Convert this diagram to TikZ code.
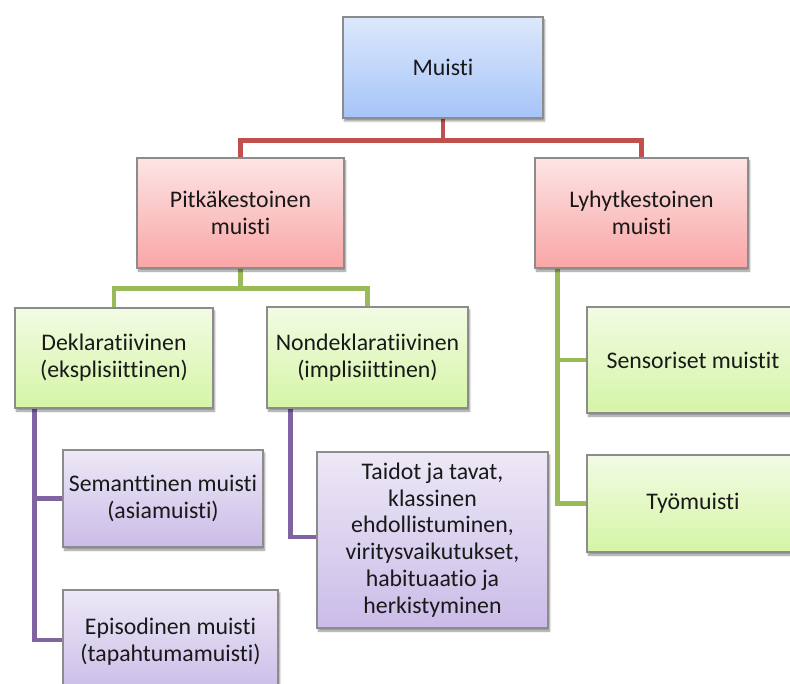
\documentclass[tikz,border=0pt]{standalone}
\usepackage{fontspec}
\setmainfont[Ligatures=NoCommon]{Carlito}
\usetikzlibrary{shadows.blur,backgrounds,calc}
\definecolor{lnred}{HTML}{C0504D}
\definecolor{lngreen}{HTML}{9BBB59}
\definecolor{lnpurple}{HTML}{8064A2}
\definecolor{bordergray}{HTML}{8C8C8C}
\tikzset{
  box/.style={draw=bordergray, line width=1.3pt, align=center, inner sep=2pt,
    font=\fontsize{23.8}{26.8}\selectfont, text=black!90,
    blur shadow={shadow xshift=1.5pt, shadow yshift=-3pt, shadow blur steps=8, shadow opacity=45}},
  bluebox/.style={box, top color={rgb,255:red,220;green,232;blue,252}, bottom color={rgb,255:red,166;green,196;blue,248}},
  redbox/.style={box, top color={rgb,255:red,253;green,228;blue,228}, bottom color={rgb,255:red,249;green,166;blue,166}},
  greenbox/.style={box, top color={rgb,255:red,242;green,251;blue,228}, bottom color={rgb,255:red,213;green,245;blue,166}},
  purplebox/.style={box, top color={rgb,255:red,237;green,232;blue,246}, bottom color={rgb,255:red,202;green,188;blue,232}},
  redline/.style={draw=lnred, line width=4.5pt},
  greenline/.style={draw=lngreen, line width=4.5pt},
  purpleline/.style={draw=lnpurple, line width=4.5pt},
}
\begin{document}
\begin{tikzpicture}[x=1pt,y=-1pt]
\useasboundingbox (0,0) rectangle (790,684);
\clip (0,0) rectangle (790,684);
% boxes
\node[bluebox, minimum width=200pt, minimum height=101pt] (muisti) at (443,67.5) {Muisti};
\node[redbox, minimum width=207pt, minimum height=110pt] (pitka) at (240.5,213) {Pitkäkestoinen\\muisti};
\node[redbox, minimum width=213pt, minimum height=110pt] (lyhyt) at (641.5,213) {Lyhytkestoinen\\muisti};
\node[greenbox, minimum width=198pt, minimum height=100pt] (dekl) at (114,358) {Deklaratiivinen\\(eksplisiittinen)};
\node[greenbox, minimum width=201pt, minimum height=101pt] (nondekl) at (367.5,357.5) {Nondeklaratiivinen\\(implisiittinen)};
\node[greenbox, minimum width=212pt, minimum height=106pt] (sens) at (693,360) {Sensoriset muistit};
\node[greenbox, minimum width=212pt, minimum height=97pt] (tyo) at (693,503.5) {Työmuisti};
\node[purplebox, minimum width=200pt, minimum height=97pt] (sem) at (163,498.5) {Semanttinen muisti\\(asiamuisti)};
\node[purplebox, minimum width=215pt, minimum height=104pt] (epi) at (170.5,642) {Episodinen muisti\\(tapahtumamuisti)};
\node[purplebox, minimum width=231pt, minimum height=176pt] (taidot) at (432.5,540) {Taidot ja tavat,\\klassinen\\ehdollistuminen,\\viritysvaikutukset,\\habituaatio ja\\herkistyminen};
% connectors
\begin{scope}[on background layer]
\coordinate (rj) at ($(muisti.south)+(0,22)$);
\draw[redline] (muisti.south) -- (rj);
\draw[redline] (rj) -| (pitka.north);
\draw[redline] (rj) -| (lyhyt.north);
\coordinate (gj) at ($(pitka.south)+(0,20)$);
\draw[greenline] (pitka.south) -- (gj);
\draw[greenline] (gj) -| (dekl.north);
\draw[greenline] (gj) -| (nondekl.north);
\coordinate (lv) at ($(lyhyt.south west)+(23,0)$);
\draw[greenline] (lv) |- (tyo.west);
\draw[greenline] (lv |- sens.west) -- (sens.west);
\coordinate (dv) at ($(dekl.south west)+(20,0)$);
\draw[purpleline] (dv) |- ($(epi.west)+(0,-2)$);
\draw[purpleline] (dv |- sem.west) -- (sem.west);
\coordinate (nv) at ($(nondekl.south west)+(24,0)$);
\draw[purpleline] (nv) |- ($(taidot.west)+(0,-3)$);
\end{scope}
\end{tikzpicture}
\end{document}
